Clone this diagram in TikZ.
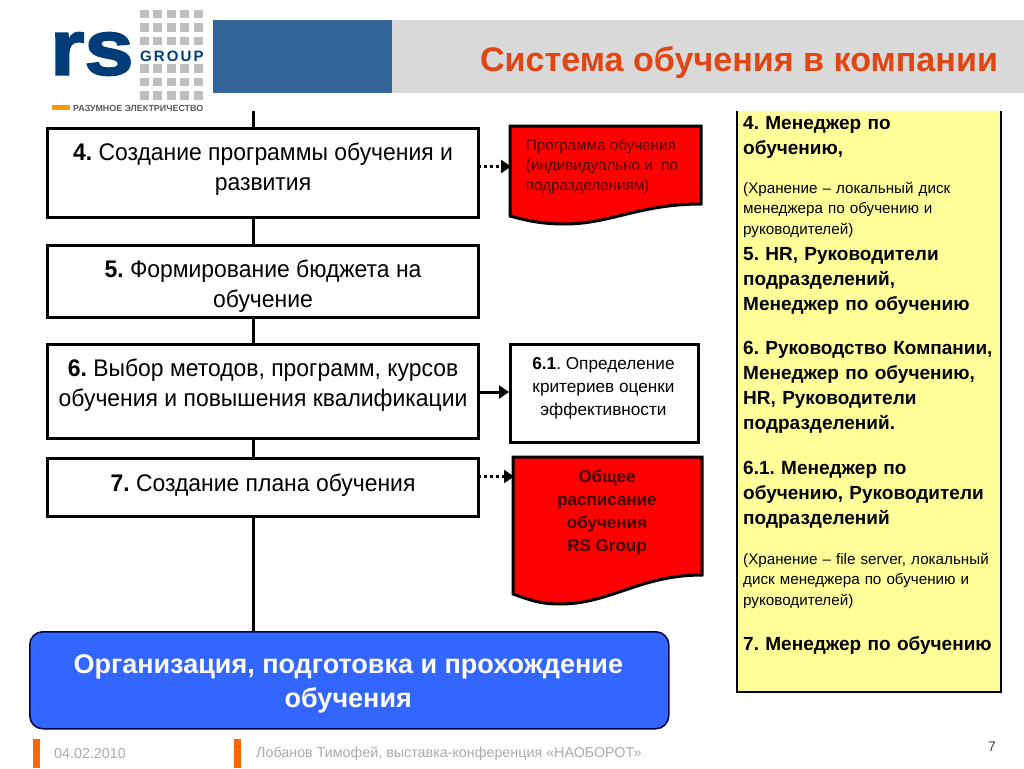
\documentclass[tikz,border=0pt]{standalone}
\usepackage{fontspec}
\setmainfont{Liberation Sans}
\newfontfamily\cond[FakeStretch=.955]{Liberation Sans}
\usetikzlibrary{arrows.meta}
\definecolor{rsblue}{RGB}{0,60,120}
\definecolor{band}{RGB}{52,101,152}
\definecolor{bandgrey}{RGB}{217,217,217}
\definecolor{gridgrey}{RGB}{190,190,190}
\definecolor{titlered}{RGB}{224,70,20}
\definecolor{footorange}{RGB}{255,102,0}
\definecolor{footgrey}{RGB}{170,170,170}
\definecolor{yel}{RGB}{255,255,153}
\definecolor{blu}{RGB}{51,102,255}
\definecolor{navy}{RGB}{0,0,70}
\newcommand{\fs}[2]{\fontsize{#1}{#2}\selectfont}
\tikzset{
 stepbox/.style={draw=black,line width=3pt,fill=white,inner sep=0pt,anchor=north west},
 steptext/.style={align=center,inner sep=0pt,font=\cond\fs{24}{30}},
 flow/.style={line width=3pt,black},
 dotarrow/.style={line width=3pt,black,dash pattern=on 3pt off 3pt,-{Triangle[length=10pt,width=13pt]}},
 solidarrow/.style={line width=3pt,black,-{Triangle[length=10pt,width=13pt]}},
 doc/.style={draw=black,line width=3pt,fill=red},
 yeltext/.style={anchor=north west,align=left,inner sep=0pt,text width=258pt}
}
\begin{document}
\frenchspacing
\begin{tikzpicture}[x=1pt,y=-1pt]
\useasboundingbox (0,0) rectangle (1024,768);
% header
\fill[band] (213,20) rectangle (392,93);
\fill[bandgrey] (392,20) rectangle (1024,93);
\node[anchor=center,text=titlered,inner sep=0pt,font=\fs{34.1}{38}\bfseries] (title) at (739,63) {Система обучения в компании};
% logo
\foreach \c in {0,...,4}{\foreach \r in {0,1,2,4,5,6}{
  \fill[gridgrey] (139.5+13.5*\c,10+13.5*\r) rectangle ++(9,8.5);}}
\node[anchor=west,inner sep=0pt,text=rsblue,font=\fs{15}{15}\bfseries\addfontfeature{LetterSpace=14}] (grp) at (140,56) {GROUP};
\node[anchor=west,inner sep=0pt,text=rsblue,font=\fs{78}{78}\bfseries\addfontfeature{FakeBold=2.5,FakeStretch=1.13}] (rs) at (50,54) {rs};
\fill[orange!80!yellow] (52,105) rectangle (70,110);
\node[anchor=west,inner sep=0pt,text=black!65,font=\fs{8.9}{9}\bfseries] (raz) at (73,108) {РАЗУМНОЕ ЭЛЕКТРИЧЕСТВО};
% boxes
\coordinate (top) at (253,111);
\node[stepbox,minimum width=431pt,minimum height=89pt] (b4) at (46,127) {};
\node[stepbox,minimum width=431pt,minimum height=72pt] (b5) at (46,244) {};
\node[stepbox,minimum width=431pt,minimum height=94pt] (b6) at (46,343) {};
\node[stepbox,minimum width=431pt,minimum height=58pt] (b7) at (46,457) {};
\node[steptext] (l4) at ([yshift=4pt]b4.center) {\textbf{4.} Создание программы обучения и\\развития};
\node[steptext] (l5) at ([yshift=-5pt]b5.center) {\textbf{5.} Формирование бюджета на\\обучение};
\node[steptext] (l6) at ([yshift=6pt]b6.center) {\textbf{6.} Выбор методов, программ, курсов\\обучения и повышения квалификации};
\node[steptext] (l7) at ([yshift=2pt]b7.center) {\textbf{7.} Создание плана обучения};
\node[anchor=north west,inner sep=0pt,draw=navy,line width=1.5pt,fill=blu,rounded corners=13pt,minimum width=639pt,minimum height=97pt] (org) at (29,631) {};
\node[text=white,align=center,inner sep=0pt,font=\fs{27}{34}\bfseries] (orgt) at ([yshift=-4pt,xshift=-1pt]org.center) {Организация, подготовка и прохождение\\обучения};
\draw[flow] (top) -- (b4.north -| top);
\draw[flow] (b4.south -| top) -- (b5.north -| top);
\draw[flow] (b5.south -| top) -- (b6.north -| top);
\draw[flow] (b6.south -| top) -- (b7.north -| top);
\draw[flow] (b7.south -| top) -- (org.north -| top);
% documents
\draw[doc] (510,126) -- (701,126) -- (701,204) .. controls (640,204) and (610,224) .. (565,224) .. controls (540,224) and (525,220) .. (510,216) -- cycle;
\node[anchor=north,inner sep=0pt,align=left,text=black!70!red,font=\fs{15.2}{20}] (d1) at (602,139.5) {Программа обучения\\(индивидуально и ~по\\подразделениям)};
\draw[doc] (513,457) -- (702,457) -- (702,575) .. controls (640,575) and (610,604) .. (560,604) .. controls (540,604) and (530,600) .. (513,594) -- cycle;
\node[anchor=north,inner sep=0pt,align=center,text=black!75!red,font=\fs{17}{23}\bfseries] (d2) at (607,470) {Общее\\расписание\\обучения\\RS Group};
\node[stepbox,minimum width=188pt,minimum height=98pt] (b61) at (509,343) {};
\node[align=center,inner sep=0pt,font=\fs{17.2}{23}] (t61box) at ([yshift=5pt,xshift=-1pt]b61.center) {\textbf{6.1}. Определение\\критериев оценки\\эффективности};
% arrows
\coordinate (a4) at (478,166.5);
\coordinate (a7) at (478,476.5);
\draw[dotarrow] (a4) -- (a4 -| 511,0);
\draw[solidarrow] (b6.east |- 0,392) -- (b61.west |- 0,392);
\draw[dotarrow] (a7) -- (a7 -| 514,0);
% yellow
\fill[yel] (737,111) rectangle (1001,692);
\coordinate (ynw) at (737,111);
\coordinate (yne) at (1001,111);
\coordinate (ysw) at (737,692);
\coordinate (yse) at (1001,692);
\draw[black,line width=2pt] (ynw) -- (ysw) -- (yse) -- (yne);
\begin{scope}[every node/.style={yeltext}]
\node[font=\fs{19}{25}\bfseries] (t4) at (743,116) {4. Менеджер по\\обучению,};
\node[font=\fs{15.2}{20.5}] (t4s) at (743,182) {(Хранение – локальный диск\\менеджера по обучению и\\руководителей)};
\node[font=\fs{19}{25}\bfseries] (t5) at (743,247) {5. HR, Руководители\\подразделений,\\Менеджер по обучению};
\node[font=\fs{19}{25}\bfseries] (t6) at (743,341) {6. Руководство Компании,\\Менеджер по обучению,\\HR, Руководители\\подразделений.};
\node[font=\fs{19}{25}\bfseries] (t61) at (743,461) {6.1. Менеджер по\\обучению, Руководители\\подразделений};
\node[font=\fs{15.2}{20.5}] (t61s) at (743,553) {(Хранение – file server, локальный\\диск менеджера по обучению и\\руководителей)};
\node[font=\fs{19}{25}\bfseries] (t7) at (743,636) {7. Менеджер по обучению};
\end{scope}
% footer
\fill[footorange] (33,739) rectangle (40,768);
\fill[footorange] (234,739) rectangle (241,768);
\node[anchor=west,inner sep=0pt,text=footgrey,font=\fs{14.3}{16}] (date) at (54,754) {04.02.2010};
\node[anchor=west,inner sep=0pt,text=footgrey,font=\fs{14.3}{16}] (auth) at (256,754) {Лобанов Тимофей, выставка-конференция «НАОБОРОТ»};
\node[anchor=center,inner sep=0pt,text=black!75,font=\fs{14}{16}] (num) at (992,747) {7};
\end{tikzpicture}
\end{document}
